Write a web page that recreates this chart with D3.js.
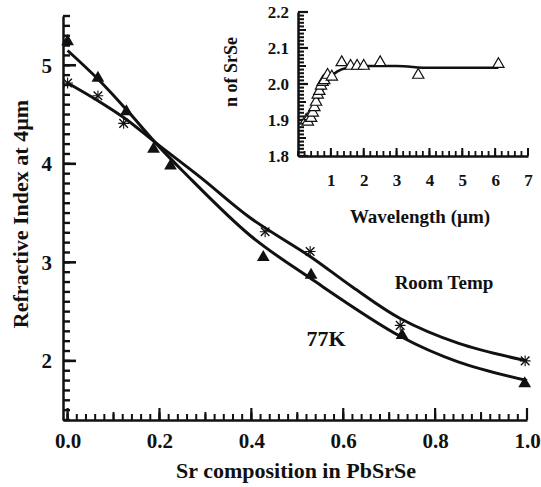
<!DOCTYPE html>
<html>
<head>
<meta charset="utf-8">
<script src="https://cdn.jsdelivr.net/npm/d3@7/dist/d3.min.js"></script>
<style>
  html, body { margin: 0; padding: 0; background: #fff; }
  svg { display: block; }
  text { font-family: "Liberation Serif", "Times New Roman", serif; font-weight: bold; fill: #111; }
</style>
</head>
<body>
<svg id="chart" width="541" height="487"></svg>
<script>
// ---------- Main chart data ----------
const roomTempX = [0.0, 0.066, 0.122, 0.43, 0.528, 0.724, 0.996];
const roomTempY = [4.82, 4.69, 4.41, 3.31, 3.11, 2.36, 2.0];
const k77X = [0.0, 0.066, 0.128, 0.187, 0.224, 0.426, 0.53, 0.728, 0.995];
const k77Y = [5.24, 4.87, 4.53, 4.15, 3.98, 3.05, 2.87, 2.26, 1.77];
// fitted curves
const roomFitX = [0.0, 0.066, 0.128, 0.19, 0.29, 0.398, 0.528, 0.62, 0.724, 0.85, 1.0];
const roomFitY = [4.82, 4.64, 4.45, 4.22, 3.86, 3.45, 3.06, 2.75, 2.43, 2.18, 2.0];
const k77FitX = [0.0, 0.066, 0.128, 0.19, 0.25, 0.398, 0.528, 0.724, 0.85, 1.0];
const k77FitY = [5.15, 4.86, 4.55, 4.22, 3.93, 3.27, 2.84, 2.25, 1.99, 1.8];
const mainXTicks = [0.0, 0.2, 0.4, 0.6, 0.8, 1.0];
const mainYTicks = [2, 3, 4, 5];

// ---------- Inset data ----------
const insetX = [0.25, 0.3, 0.35, 0.4, 0.45, 0.5, 0.55, 0.6, 0.65, 0.7, 0.75, 0.8, 0.9, 1.03, 1.33, 1.6, 1.8, 2.0, 2.5, 3.66, 6.1];
const insetY = [1.90, 1.895, 1.91, 1.905, 1.92, 1.935, 1.95, 1.97, 1.98, 1.995, 2.005, 2.01, 2.025, 2.02, 2.06, 2.05, 2.05, 2.05, 2.06, 2.025, 2.055];
const insetFitX = [0.2, 0.4, 0.6, 0.8, 1.0, 1.2, 1.5, 2.0, 3.0, 4.0, 5.0, 6.1];
const insetFitY = [1.89, 1.91, 1.955, 1.995, 2.02, 2.035, 2.045, 2.05, 2.05, 2.045, 2.045, 2.045];
const insetXTicks = [1, 2, 3, 4, 5, 6, 7];
const insetYTicks = [1.8, 1.9, 2.0, 2.1, 2.2];

const svg = d3.select("#chart");
const INK = "#111";

// ---------- helpers: inward tick marks ----------
function vTicks(values, scale, x0, len, w) {
  svg.append("g").selectAll("rect").data(values).join("rect")
    .attr("x", x0).attr("width", len)
    .attr("y", d => scale(d) - w / 2).attr("height", w)
    .attr("fill", INK);
}
function hTicks(values, scale, y0, len, w) {
  svg.append("g").selectAll("rect").data(values).join("rect")
    .attr("x", d => scale(d) - w / 2).attr("width", w)
    .attr("y", y0 - len).attr("height", len)
    .attr("fill", INK);
}
function labelAxis(g, size) {
  g.select(".domain").attr("stroke", INK).attr("stroke-width", 2.5);
  g.selectAll(".tick line").remove();
  g.selectAll("text").style("font-size", size + "px")
    .style("font-family", "Liberation Serif").style("font-weight", "bold").attr("fill", INK);
}

// ---------- Main scales ----------
const x = d3.scaleLinear().domain([-0.01, 1.0]).range([63, 527]);
const y = d3.scaleLinear().domain([1.4, 5.5]).range([420, 16]);
const X0 = x.range()[0], Y0 = y.range()[0];

svg.append("g").attr("transform", `translate(${X0},0)`)
  .call(d3.axisLeft(y).tickValues(mainYTicks).tickSize(0).tickPadding(11).tickFormat(d3.format("d")).tickSizeOuter(0))
  .call(g => labelAxis(g, 21));
svg.append("g").attr("transform", `translate(0,${Y0})`)
  .call(d3.axisBottom(x).tickValues(mainXTicks).tickSize(0).tickPadding(13).tickFormat(d3.format(".1f")).tickSizeOuter(0))
  .call(g => labelAxis(g, 21));

vTicks(d3.range(14, 56).map(d => d / 10), y, X0, 7, 2.4);
vTicks(mainYTicks, y, X0, 13, 2.6);
hTicks(d3.range(0, 51).map(d => d / 50), x, Y0, 6, 2);
hTicks(d3.range(0, 11).map(d => d / 10), x, Y0, 8, 2);
hTicks(mainXTicks, x, Y0, 12, 2.2);

// Curves
const mainLine = d3.line().x(d => x(d[0])).y(d => y(d[1])).curve(d3.curveCatmullRom.alpha(0.5));
svg.append("path").datum(d3.zip(roomFitX, roomFitY)).attr("d", mainLine)
  .attr("fill", "none").attr("stroke", INK).attr("stroke-width", 3);
svg.append("path").datum(d3.zip(k77FitX, k77FitY)).attr("d", mainLine)
  .attr("fill", "none").attr("stroke", INK).attr("stroke-width", 3);

// Markers
svg.append("g").selectAll("path").data(d3.zip(k77X, k77Y)).join("path")
  .attr("d", d3.symbol().type(d3.symbolTriangle).size(70))
  .attr("transform", d => `translate(${x(d[0])},${y(d[1])})`)
  .attr("fill", INK);
svg.append("g").selectAll("path").data(d3.zip(roomTempX, roomTempY)).join("path")
  .attr("d", d3.symbol().type(d3.symbolTimes).size(50))
  .attr("transform", d => `translate(${x(d[0])},${y(d[1])})`)
  .attr("fill", "none").attr("stroke", INK).attr("stroke-width", 1.4);
svg.append("g").selectAll("path").data(d3.zip(roomTempX, roomTempY)).join("path")
  .attr("d", d3.symbol().type(d3.symbolPlus).size(40))
  .attr("transform", d => `translate(${x(d[0])},${y(d[1])})`)
  .attr("fill", "none").attr("stroke", INK).attr("stroke-width", 1.1);

// Labels
svg.append("text").attr("transform", "translate(28,214) rotate(-90)").attr("text-anchor", "middle")
  .style("font-size", "22px").text("Refractive Index at 4\u00B5m");
svg.append("text").attr("x", 296).attr("y", 478).attr("text-anchor", "middle")
  .style("font-size", "22px").text("Sr composition in PbSrSe");
svg.append("text").attr("x", 444).attr("y", 289).attr("text-anchor", "middle")
  .style("font-size", "19px").text("Room Temp");
svg.append("text").attr("x", 326).attr("y", 346).attr("text-anchor", "middle")
  .style("font-size", "22px").text("77K");

// ---------- Inset ----------
const ix = d3.scaleLinear().domain([0, 7]).range([298, 528]);
const iy = d3.scaleLinear().domain([1.8, 2.2]).range([156, 12]);
const IX0 = ix.range()[0], IY0 = iy.range()[0];

svg.append("g").attr("transform", `translate(${IX0},0)`)
  .call(d3.axisLeft(iy).tickValues(insetYTicks).tickSize(0).tickPadding(9).tickFormat(d3.format(".1f")).tickSizeOuter(0))
  .call(g => labelAxis(g, 17));
svg.append("g").attr("transform", `translate(0,${IY0})`)
  .call(d3.axisBottom(ix).tickValues(insetXTicks).tickSize(0).tickPadding(18).tickFormat(d3.format("d")).tickSizeOuter(0))
  .call(g => labelAxis(g, 17));

vTicks(d3.range(180, 221).map(d => d / 100), iy, IX0, 6, 2);
vTicks(d3.range(180, 221, 5).map(d => d / 100), iy, IX0, 8, 2);
vTicks(insetYTicks, iy, IX0, 10, 2.2);
hTicks(d3.range(0, 36).map(d => d / 5), ix, IY0, 5, 1.8);
hTicks(insetXTicks, ix, IY0, 8, 2);

const insetLine = d3.line().x(d => ix(d[0])).y(d => iy(d[1])).curve(d3.curveMonotoneX);
svg.append("path").datum(d3.zip(insetFitX, insetFitY)).attr("d", insetLine)
  .attr("fill", "none").attr("stroke", INK).attr("stroke-width", 2.5);
svg.append("g").selectAll("path").data(d3.zip(insetX, insetY)).join("path")
  .attr("d", d3.symbol().type(d3.symbolTriangle).size(55))
  .attr("transform", d => `translate(${ix(d[0])},${iy(d[1])})`)
  .attr("fill", "#fff").attr("stroke", INK).attr("stroke-width", 1.2);

svg.append("text").attr("transform", "translate(237,72) rotate(-90)").attr("text-anchor", "middle")
  .style("font-size", "18px").text("n of SrSe");
svg.append("text").attr("x", 420).attr("y", 223).attr("text-anchor", "middle")
  .style("font-size", "19px").text("Wavelength (\u00B5m)");
</script>
</body>
</html>
